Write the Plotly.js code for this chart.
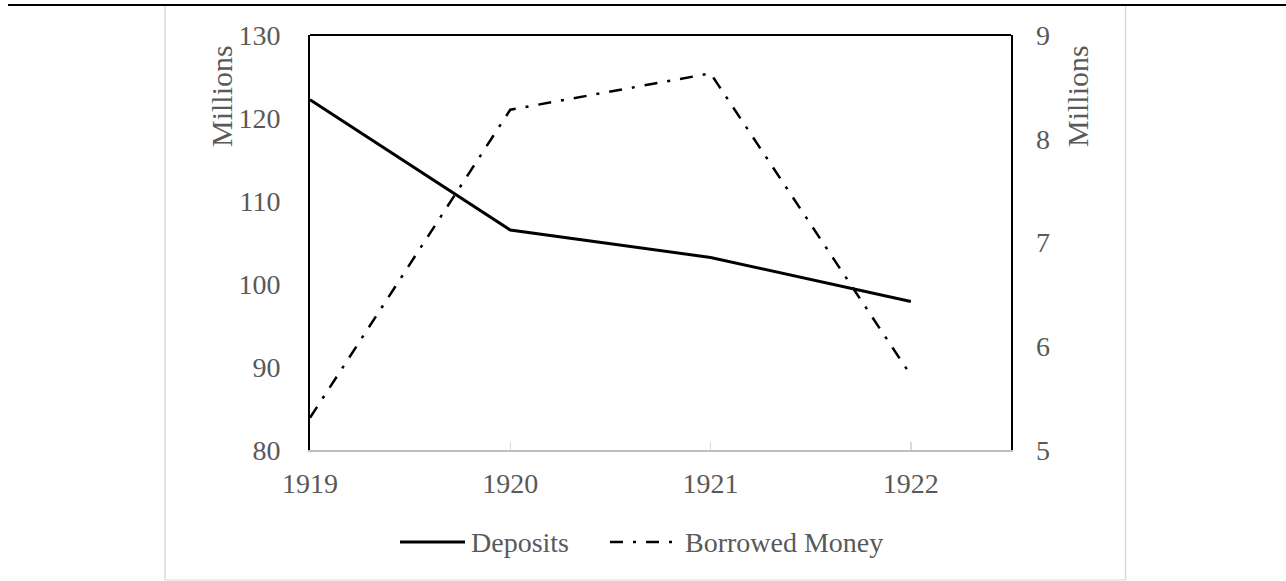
<!DOCTYPE html>
<html>
<head>
<meta charset="utf-8">
<script src="https://cdn.plot.ly/plotly-3.0.1.min.js"></script>
<style>html,body{margin:0;padding:0;background:#fff;}#chart{width:1286px;height:581px;}</style>
</head>
<body>
<div id="chart"></div>
<script>
const years = [1919, 1920, 1921, 1922];
const yearLabels = ['1919', '1920', '1921', '1922'];
const deposits = [122.2, 106.5, 103.2, 97.9];
const borrowedMoney = [5.31, 8.28, 8.63, 5.72];
const leftTicks = [80, 90, 100, 110, 120, 130];
const rightTicks = [5, 6, 7, 8, 9];

const FONT = 'Liberation Serif, Times New Roman, serif';
const GREY = '#595959';
const DASHDOT = '13px,10px,3px,10px';

// pixel -> paper helpers for decoration
const L = 310, R = 1011, T = 35, B = 450;
const px = v => (v - L) / (R - L);
const py = v => (B - v) / (B - T);

const traces = [
  {x: years, y: deposits, name: 'Deposits', type: 'scatter', mode: 'lines',
   line: {color: '#000', width: 3}, yaxis: 'y', showlegend: false},
  {x: years, y: borrowedMoney, name: 'Borrowed Money', type: 'scatter', mode: 'lines',
   line: {color: '#000', width: 2.5, dash: DASHDOT}, yaxis: 'y2', showlegend: false}
];

const layout = {
  width: 1286, height: 581,
  margin: {l: L, r: 1286 - R, t: T, b: 581 - B},
  paper_bgcolor: '#fff', plot_bgcolor: '#fff',
  font: {family: FONT, size: 28, color: GREY},
  xaxis: {range: [1919, 1922.5], tickvals: years, ticktext: yearLabels,
    showgrid: false, zeroline: false, showline: true, linecolor: '#bfbfbf', linewidth: 1.5,
    ticks: 'inside', ticklen: 8, tickcolor: '#d9d9d9', tickwidth: 1.5,
    ticklabelstandoff: 8, tickfont: {family: FONT, size: 28, color: GREY}},
  yaxis: {range: [80, 130], tickvals: leftTicks, showgrid: false, zeroline: false,
    showline: true, mirror: true, linecolor: '#000', linewidth: 2, ticks: '',
    ticklabelstandoff: 22, tickfont: {family: FONT, size: 28, color: GREY}},
  yaxis2: {range: [5, 9], tickvals: rightTicks, overlaying: 'y', side: 'right',
    showgrid: false, zeroline: false, showline: false, ticks: '',
    ticklabelstandoff: 24, tickfont: {family: FONT, size: 28, color: GREY}},
  shapes: [
    // top frame line
    {type: 'line', xref: 'paper', yref: 'paper', x0: 0, x1: 1, y0: 1, y1: 1, line: {color: '#000', width: 2}},
    // page rule at top
    {type: 'line', xref: 'paper', yref: 'paper', x0: px(8), x1: px(1286), y0: py(5), y1: py(5), line: {color: '#000', width: 2}},
    // grey outer box
    {type: 'line', xref: 'paper', yref: 'paper', x0: px(165), x1: px(165), y0: py(6), y1: py(580), line: {color: '#d9d9d9', width: 1.5}},
    {type: 'line', xref: 'paper', yref: 'paper', x0: px(1125.5), x1: px(1125.5), y0: py(6), y1: py(580), line: {color: '#d9d9d9', width: 1.5}},
    {type: 'line', xref: 'paper', yref: 'paper', x0: px(165), x1: px(1125.5), y0: py(580), y1: py(580), line: {color: '#e6e6e6', width: 1.5}},
    // legend samples
    {type: 'line', xref: 'paper', yref: 'paper', x0: px(400), x1: px(465), y0: py(542), y1: py(542), line: {color: '#000', width: 3}},
    {type: 'line', xref: 'paper', yref: 'paper', x0: px(610), x1: px(672), y0: py(542), y1: py(542), line: {color: '#000', width: 2.5, dash: DASHDOT}}
  ],
  annotations: [
    {text: 'Millions', xref: 'paper', yref: 'paper', x: px(221), y: py(96), textangle: -90,
     showarrow: false, xanchor: 'center', yanchor: 'middle', font: {family: FONT, size: 30, color: GREY}},
    {text: 'Millions', xref: 'paper', yref: 'paper', x: px(1077), y: py(96), textangle: -90,
     showarrow: false, xanchor: 'center', yanchor: 'middle', font: {family: FONT, size: 30, color: GREY}},
    {text: 'Deposits', xref: 'paper', yref: 'paper', x: px(469), y: py(542),
     showarrow: false, xanchor: 'left', yanchor: 'middle', font: {family: FONT, size: 28, color: GREY}},
    {text: 'Borrowed Money', xref: 'paper', yref: 'paper', x: px(683), y: py(542),
     showarrow: false, xanchor: 'left', yanchor: 'middle', font: {family: FONT, size: 28, color: GREY}}
  ]
};

Plotly.newPlot('chart', traces, layout, {displayModeBar: false, staticPlot: true});
</script>
</body>
</html>
